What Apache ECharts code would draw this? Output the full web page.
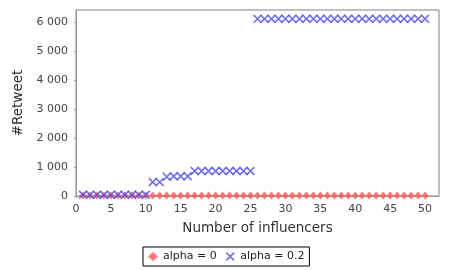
<!DOCTYPE html>
<html><head><meta charset="utf-8">
<script src="https://cdn.jsdelivr.net/npm/echarts@6/dist/echarts.min.js"></script>
<style>html,body{margin:0;padding:0;background:#fff}#c{width:450px;height:270px}</style>
</head><body><div id="c"></div>
<script>
const influencers = [1,2,3,4,5,6,7,8,9,10,11,12,13,14,15,16,17,18,19,20,21,22,23,24,25,26,27,28,29,30,31,32,33,34,35,36,37,38,39,40,41,42,43,44,45,46,47,48,49,50];
const alpha0 = [20,20,20,20,20,20,20,20,20,20,20,20,20,20,20,20,20,20,20,20,20,20,20,20,20,20,20,20,20,20,20,20,20,20,20,20,20,20,20,20,20,20,20,20,20,20,20,20,20,20];
const alpha02 = [40,40,40,40,40,40,40,40,40,40,480,480,660,680,680,680,860,860,860,860,860,860,860,860,860,6100,6100,6100,6100,6100,6100,6100,6100,6100,6100,6100,6100,6100,6100,6100,6100,6100,6100,6100,6100,6100,6100,6100,6100,6100];
const xTickStep = 5;
const yTickStep = 1000;
const seriesNames = ['alpha = 0','alpha = 0.2'];

const crossPath = 'path://M0,1.3 L1.3,0 L5,3.7 L8.7,0 L10,1.3 L6.3,5 L10,8.7 L8.7,10 L5,6.3 L1.3,10 L0,8.7 L3.7,5 Z';
const font = 'DejaVu Sans';
const fmtY = v => (v % yTickStep === 0 && v <= 6000) ? String(v).replace(/\B(?=(\d{3})+(?!\d))/g,' ') : '';
const fmtX = v => (v % xTickStep === 0 && v <= 50) ? String(v) : '';
const chart = echarts.init(document.getElementById('c'), null, {renderer:'canvas'});
chart.setOption({
  animation:false,
  grid:{left:76,right:11,top:10,bottom:74,show:true,borderColor:'#808080',borderWidth:1,backgroundColor:'#fff'},
  xAxis:{type:'value',min:0,max:52,interval:xTickStep,offset:4,
    name:'Number of influencers',nameLocation:'middle',nameGap:21,
    nameTextStyle:{fontFamily:font,fontSize:13.5,color:'#333'},
    axisLine:{lineStyle:{color:'#999'}},
    axisTick:{show:true,length:2,lineStyle:{color:'#999'}},
    axisLabel:{fontFamily:font,fontSize:11,color:'#444',margin:4,showMaxLabel:false,formatter:fmtX},
    splitLine:{show:false}},
  yAxis:{type:'value',min:0,max:6405,interval:yTickStep,offset:4,
    name:'#Retweet',nameLocation:'middle',nameGap:46,
    nameTextStyle:{fontFamily:font,fontSize:13.5,color:'#333'},
    axisLine:{show:true,lineStyle:{color:'#999'}},
    axisTick:{show:true,length:2,lineStyle:{color:'#999'}},
    axisLabel:{fontFamily:font,fontSize:11,color:'#444',margin:4,showMaxLabel:false,formatter:fmtY},
    splitLine:{show:false}},
  legend:{left:143,top:247,orient:'horizontal',
    borderColor:'#000',borderWidth:1,padding:[4,5,4,5],itemGap:9,itemWidth:10,itemHeight:9,
    textStyle:{fontFamily:font,fontSize:11,color:'#222'},
    data:seriesNames},
  series:[
    {name:seriesNames[0],type:'scatter',symbol:'diamond',symbolSize:[7,8],clip:false,
      itemStyle:{color:'#ff5555'},data:influencers.map((x,i)=>[x,alpha0[i]])},
    {name:seriesNames[1],type:'scatter',symbol:crossPath,symbolSize:9,clip:false,
      itemStyle:{color:'#4f4fef'},data:influencers.map((x,i)=>[x,alpha02[i]])}
  ]
});
</script></body></html>
